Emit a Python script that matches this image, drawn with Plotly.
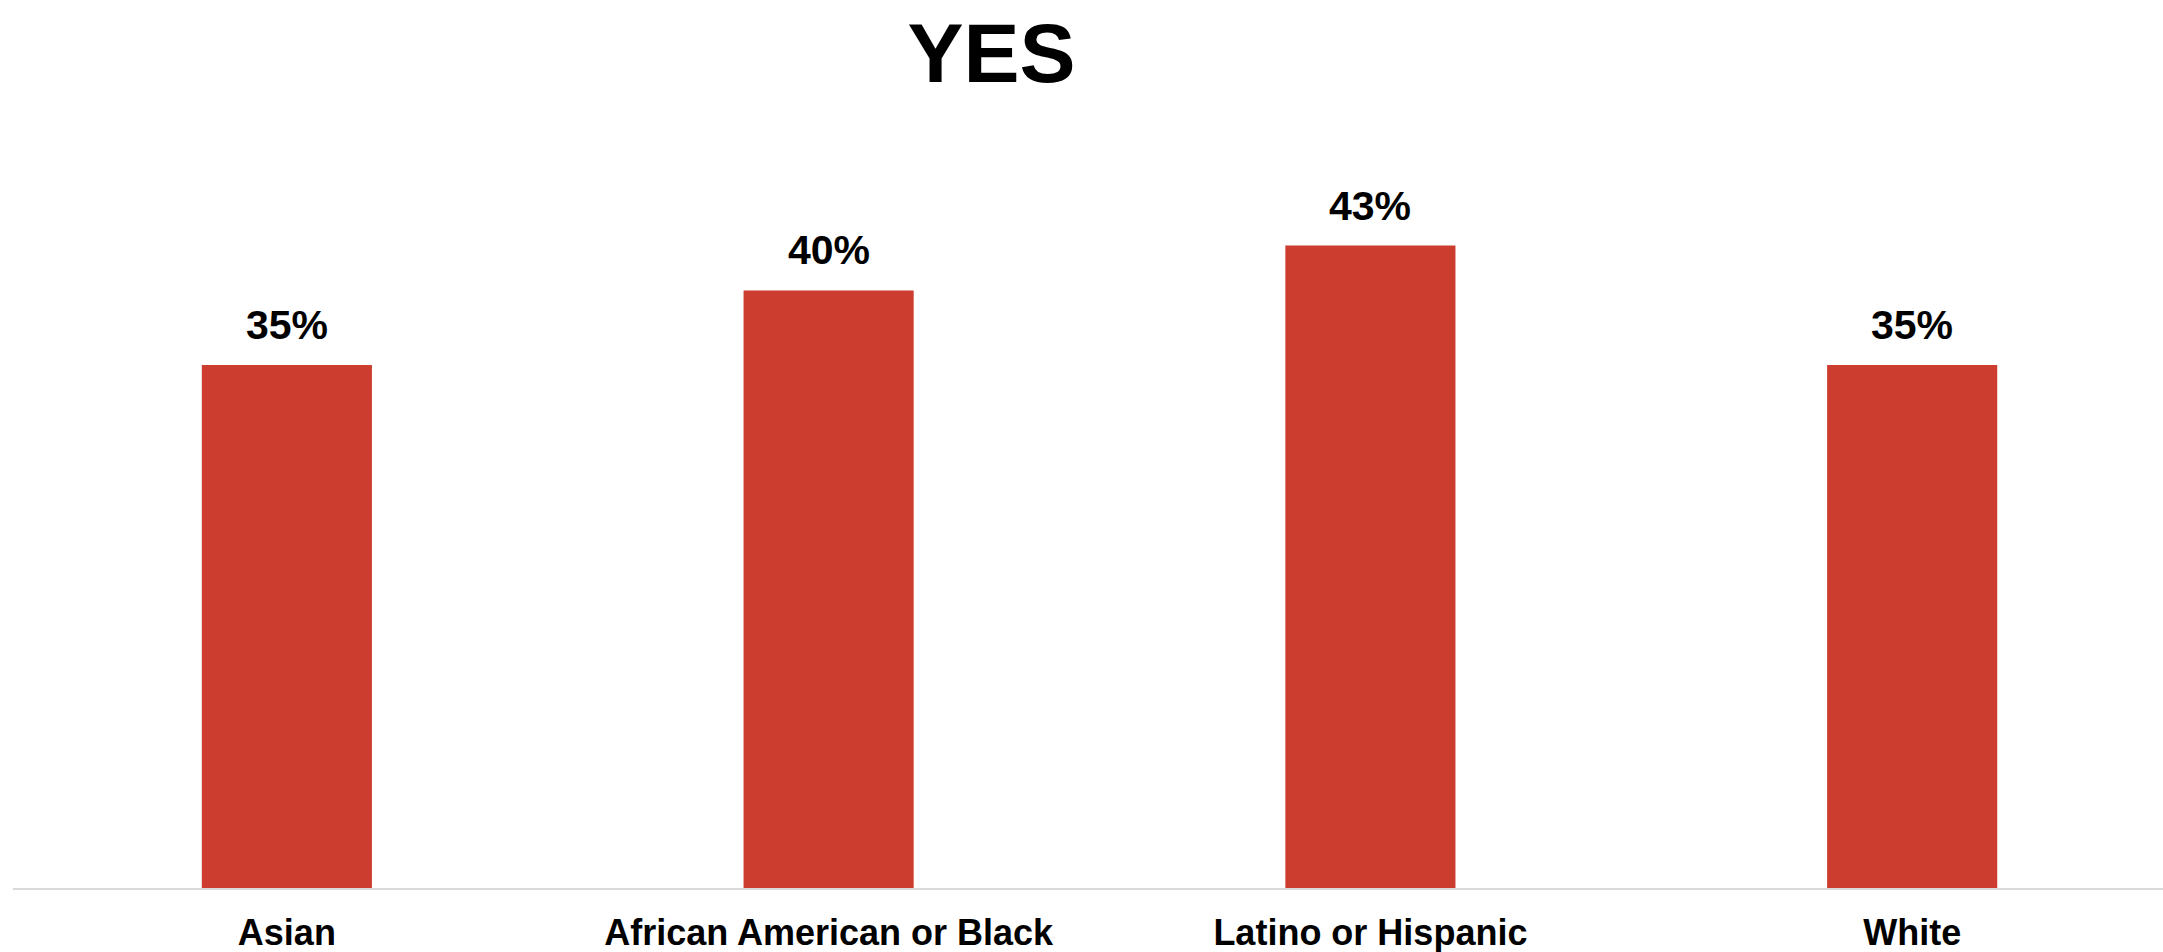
import plotly.graph_objects as go

categories = ["Asian", "African American or Black", "Latino or Hispanic", "White"]
values = [35, 40, 43, 35]
labels = ["35%", "40%", "43%", "35%"]

BAR_COLOR = "#CC3D2F"
FONT = "Liberation Sans, Arial, sans-serif"

fig = go.Figure()
fig.add_trace(go.Bar(
    x=list(range(len(categories))),
    y=values,
    width=0.314,
    marker=dict(color=BAR_COLOR, line=dict(width=0)),
    hoverinfo="skip",
))

for i, (v, t) in enumerate(zip(values, labels)):
    fig.add_annotation(
        x=i, y=v, text="<b>%s</b>" % t, showarrow=False,
        xanchor="center", yanchor="bottom", yshift=15,
        font=dict(family=FONT, size=41, color="black"),
    )

fig.update_layout(
    width=2163, height=952,
    margin=dict(l=13, r=0, t=141, b=64, autoexpand=False),
    paper_bgcolor="white", plot_bgcolor="white",
    showlegend=False,
    title=dict(
        text="<b>YES</b>",
        font=dict(family=FONT, size=84, color="black"),
        xref="container", yref="container",
        x=991.5 / 2163, xanchor="center",
        y=1 - 53 / 952, yanchor="middle",
    ),
    xaxis=dict(
        range=[-0.5055, 3.463],
        tickmode="array",
        tickvals=list(range(len(categories))),
        ticktext=["<b>%s</b>" % c for c in categories],
        tickfont=dict(family=FONT, size=36, color="black"),
        showgrid=False, zeroline=False,
        showline=True, linecolor="#d9d9d9", linewidth=2,
        ticks="", ticklabelstandoff=12, automargin=False,
    ),
    yaxis=dict(
        range=[0, 50], visible=False, showgrid=False, zeroline=False,
        automargin=False,
    ),
)

fig.write_html(
    "out.html",
    config={"displayModeBar": False},
    post_script="document.body.style.margin='0';document.body.style.overflow='hidden';",
)
